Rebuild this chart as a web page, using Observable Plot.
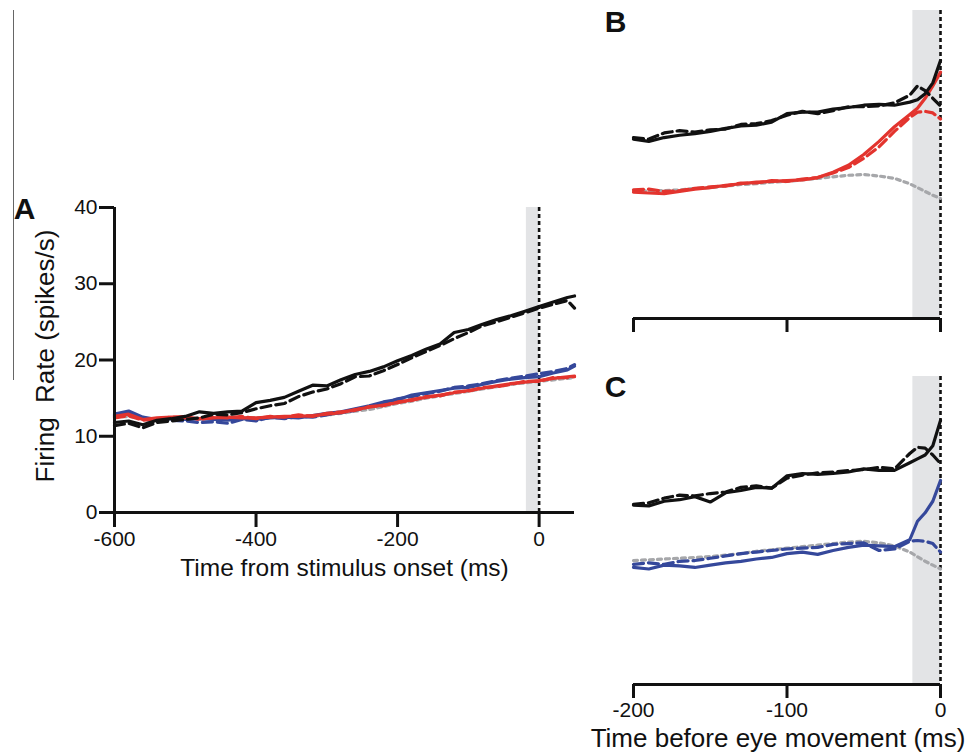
<!DOCTYPE html>
<html><head><meta charset="utf-8">
<script src="https://cdn.jsdelivr.net/npm/d3@7"></script>
<script src="https://cdn.jsdelivr.net/npm/@observablehq/plot@0.6"></script>
<style>
body{margin:0;background:#fff;}
#fig{position:relative;width:968px;height:752px;overflow:hidden;font-family:"Liberation Sans",Arial,sans-serif;background:#fff;}
#fig > div.p{position:absolute;}
#fig svg{overflow:visible;}
#edge{position:absolute;left:13px;top:10px;width:0;height:370px;border-left:1.3px solid #666;}
</style></head><body>
<div id="fig"><div id="edge"></div><div class="p" id="pa" style="left:0;top:190px"></div><div class="p" id="pb" style="left:580px;top:0"></div><div class="p" id="pc" style="left:580px;top:365px"></div></div>
<script>
// ---------- Panel A data (time from stimulus onset, ms) ----------
const timeA = [-600,-580,-560,-540,-520,-500,-480,-460,-440,-420,-400,-380,-360,-340,-320,-300,-280,-260,-240,-220,-200,-180,-160,-140,-120,-100,-80,-60,-40,-20,0,20,40,50];
const blackSolidA = [11.8,12.0,11.5,12.1,12.3,12.6,13.2,13.0,13.2,13.3,14.4,14.7,15.1,15.9,16.7,16.6,17.4,18.1,18.5,19.1,19.9,20.6,21.4,22.1,23.6,24.0,24.7,25.3,25.8,26.4,27.0,27.6,28.2,28.4];
const blackDashA  = [11.4,11.7,11.1,11.8,12.0,12.2,12.4,12.9,12.8,13.1,13.6,14.0,14.3,15.2,15.8,16.2,16.9,17.8,17.9,18.6,19.4,20.3,21.1,21.9,22.8,23.6,24.5,25.0,25.6,26.2,26.8,27.3,27.8,26.8];
const redSolidA   = [12.6,12.9,12.2,12.4,12.5,12.4,12.3,12.4,12.5,12.4,12.4,12.5,12.6,12.6,12.7,12.9,13.1,13.5,13.8,14.1,14.4,14.8,15.1,15.4,15.7,16.0,16.3,16.6,16.9,17.1,17.3,17.6,17.8,17.9];
const redDashA    = [12.4,12.7,12.1,12.3,12.5,12.6,12.2,12.5,12.4,12.6,12.3,12.6,12.5,12.8,12.6,13.0,13.2,13.4,13.9,14.0,14.5,14.7,15.2,15.3,15.8,15.9,16.4,16.5,16.8,17.2,17.2,17.7,17.7,17.8];
const blueSolidA  = [12.9,13.3,12.5,12.2,12.3,12.2,12.3,12.2,12.1,12.3,12.2,12.4,12.5,12.4,12.7,13.0,13.2,13.6,14.0,14.5,14.8,15.4,15.7,16.0,16.3,16.4,16.8,17.2,17.5,17.7,17.8,18.3,18.7,19.2];
const blueDashA   = [12.7,13.1,12.3,11.9,12.1,12.0,11.8,11.9,11.7,12.2,12.0,12.5,12.3,12.6,12.5,12.8,13.1,13.4,13.9,14.3,14.9,15.2,15.6,15.9,16.4,16.6,16.9,17.3,17.6,17.9,18.2,18.5,18.9,19.4];
const grayA       = [12.5,12.6,12.3,12.3,12.4,12.4,12.3,12.4,12.4,12.4,12.4,12.5,12.5,12.6,12.6,12.8,13.0,13.3,13.5,13.9,14.3,14.6,15.0,15.3,15.6,15.9,16.2,16.5,16.8,17.0,17.2,17.4,17.6,17.7];

// ---------- Panels B and C data (time before eye movement, ms) ----------
const timeBC = [-200,-190,-180,-170,-160,-150,-140,-130,-120,-110,-100,-90,-80,-70,-60,-50,-40,-30,-20,-15,-10,-5,0];
const blackSolidB = [23.3,23.0,23.5,23.8,24.0,24.3,24.7,25.0,25.1,25.5,26.6,26.8,26.8,27.2,27.4,27.7,27.8,27.7,28.1,28.4,29.2,30.6,33.5];
const blackDashB  = [23.5,23.3,24.1,24.4,24.2,24.5,24.6,25.2,25.3,25.7,26.4,26.9,26.6,27.0,27.5,27.5,27.6,28.0,29.0,30.2,29.6,28.6,27.6];
const redSolidB   = [16.4,16.3,16.2,16.5,16.8,17.0,17.3,17.5,17.7,17.8,17.9,18.0,18.3,19.0,19.9,21.3,23.0,24.9,26.5,27.3,28.6,30.2,32.0];
const redDashB    = [16.7,16.8,16.5,16.6,16.9,17.1,17.2,17.6,17.6,17.9,17.8,18.1,18.3,18.9,19.6,20.8,22.3,24.3,26.1,26.8,26.9,26.7,25.9];
const grayB       = [16.5,16.6,16.6,16.7,16.9,17.0,17.2,17.4,17.5,17.7,17.8,18.0,18.2,18.4,18.6,18.7,18.5,18.2,17.5,17.0,16.5,16.0,15.6];
const blackSolidC = [23.3,23.2,23.8,24.0,24.4,23.7,24.9,25.2,25.6,25.5,27.1,27.4,27.3,27.4,27.6,28.0,27.8,27.8,28.8,29.3,29.8,31.0,34.3];
const blackDashC  = [23.4,23.6,24.2,24.6,24.5,24.8,25.0,25.6,25.8,25.5,26.8,27.2,27.5,27.6,27.8,27.9,28.2,28.0,30.0,30.8,30.7,29.8,28.7];
const blueSolidC  = [15.2,15.0,15.5,15.4,15.2,15.5,15.8,16.0,16.3,16.5,17.0,17.2,16.9,17.4,17.8,18.1,18.0,17.9,18.8,21.2,22.3,23.8,26.5];
const blueDashC   = [15.6,15.8,15.6,16.0,16.1,16.4,16.7,17.0,17.2,17.4,17.6,17.7,17.8,18.2,18.3,18.4,17.4,17.6,18.6,18.7,18.6,18.3,17.2];
const grayC       = [16.1,16.2,16.3,16.4,16.5,16.6,16.8,17.0,17.3,17.5,17.7,17.9,18.1,18.3,18.5,18.6,18.4,18.0,17.2,16.6,16.0,15.5,15.0];

// ---------- ticks, labels, band ----------
const ticksAX = [-600,-400,-200,0];
const ticksAY = [0,10,20,30,40];
const ticksBC = [-200,-100,0];
const band = [{x1: -18, x2: 0, y1: 0, y2: 40}];
const titleA = "Time from stimulus onset (ms)";
const titleY = "Firing  Rate (spikes/s)";
const titleC = "Time before eye movement (ms)";

const C = {black: "#111111", red: "#e3342e", blue: "#35489b", gray: "#a6a7aa", band: "#e3e4e6"};
const DASH = "10,5", DOT = "4,4";
const font = "'Liberation Sans', Arial, Helvetica, sans-serif";

const rows = (ts, vs) => ts.map((t, i) => ({t, v: vs[i]}));
const line = (ts, vs, stroke, dash) => Plot.line(rows(ts, vs), {x: "t", y: "v", stroke, strokeWidth: 3.2, strokeDasharray: dash, strokeLinejoin: "round"});
const common = (extra) => [
  Plot.rect(band, {x1: "x1", x2: "x2", y1: "y1", y2: "y2", fill: C.band}),
  Plot.ruleX([0], {stroke: C.black, strokeWidth: 2.6, strokeDasharray: "4,3"}),
  ...extra
];
const letter = (s, dx, dy) => Plot.text([s], {text: d => d, frameAnchor: "top-left", textAnchor: "middle", lineAnchor: "middle", dx, dy, fontSize: 30, fontWeight: "bold", fill: C.black});

// ---------- Panel A ----------
const A = Plot.plot({
  width: 590, height: 400, marginLeft: 114, marginRight: 16, marginTop: 17, marginBottom: 78,
  style: {fontFamily: font, fontSize: "21px", background: "transparent", color: C.black},
  x: {domain: [-600, 50], label: null},
  y: {domain: [0, 40], label: null},
  marks: [
    ...common([
      line(timeA, grayA, C.gray, DOT),
      line(timeA, blueDashA, C.blue, DASH),
      line(timeA, blueSolidA, C.blue),
      line(timeA, redDashA, C.red, DASH),
      line(timeA, redSolidA, C.red),
      line(timeA, blackDashA, C.black, DASH),
      line(timeA, blackSolidA, C.black)
    ]),
    Plot.ruleX([-600], {stroke: C.black, strokeWidth: 3}),
    Plot.ruleY([0], {stroke: C.black, strokeWidth: 3}),
    Plot.axisX({ticks: ticksAX, tickSize: 15, tickPadding: 4, strokeWidth: 3, tickFormat: d => String(d), label: null}),
    Plot.axisY({ticks: ticksAY, tickSize: 15, tickPadding: 2, strokeWidth: 3, tickFormat: d => String(d), label: null}),
    Plot.text([titleA], {text: d => d, frameAnchor: "bottom", textAnchor: "middle", lineAnchor: "middle", dy: 56, fontSize: 24.5, fill: C.black}),
    Plot.text([titleY], {text: d => d, frameAnchor: "left", textAnchor: "middle", lineAnchor: "middle", rotate: -90, dx: -69, dy: -4, fontSize: 26, fill: C.black}),
    letter("A", -90, 2)
  ]
});
document.getElementById("pa").appendChild(A);

// ---------- Panel B ----------
const B = Plot.plot({
  width: 388, height: 345, marginLeft: 53, marginRight: 28, marginTop: 10, marginBottom: 27,
  style: {fontFamily: font, fontSize: "21px", background: "transparent", color: C.black},
  x: {domain: [-200, 0], label: null},
  y: {domain: [0, 40], label: null, axis: null},
  marks: [
    ...common([
      line(timeBC, grayB, C.gray, DOT),
      line(timeBC, redDashB, C.red, DASH),
      line(timeBC, redSolidB, C.red),
      line(timeBC, blackDashB, C.black, DASH),
      line(timeBC, blackSolidB, C.black)
    ]),
    Plot.ruleY([0], {stroke: C.black, strokeWidth: 3}),
    Plot.axisX({ticks: ticksBC, tickSize: 14, strokeWidth: 3, tickFormat: () => "", label: null}),
    letter("B", -18, 11.5)
  ]
});
document.getElementById("pb").appendChild(B);

// ---------- Panel C ----------
const Cp = Plot.plot({
  width: 388, height: 387, marginLeft: 53, marginRight: 28, marginTop: 11, marginBottom: 68,
  style: {fontFamily: font, fontSize: "21px", background: "transparent", color: C.black},
  x: {domain: [-200, 0], label: null},
  y: {domain: [0, 40], label: null, axis: null},
  marks: [
    ...common([
      line(timeBC, grayC, C.gray, DOT),
      line(timeBC, blueDashC, C.blue, DASH),
      line(timeBC, blueSolidC, C.blue),
      line(timeBC, blackDashC, C.black, DASH),
      line(timeBC, blackSolidC, C.black)
    ]),
    Plot.ruleY([0], {stroke: C.black, strokeWidth: 3}),
    Plot.axisX({ticks: ticksBC, tickSize: 14, tickPadding: 4, strokeWidth: 3, tickFormat: d => String(d), label: null}),
    Plot.text([titleC], {text: d => d, frameAnchor: "bottom", textAnchor: "middle", lineAnchor: "middle", dx: -9, dy: 54, fontSize: 26, fill: C.black}),
    letter("C", -18, 11)
  ]
});
document.getElementById("pc").appendChild(Cp);
</script></body></html>
